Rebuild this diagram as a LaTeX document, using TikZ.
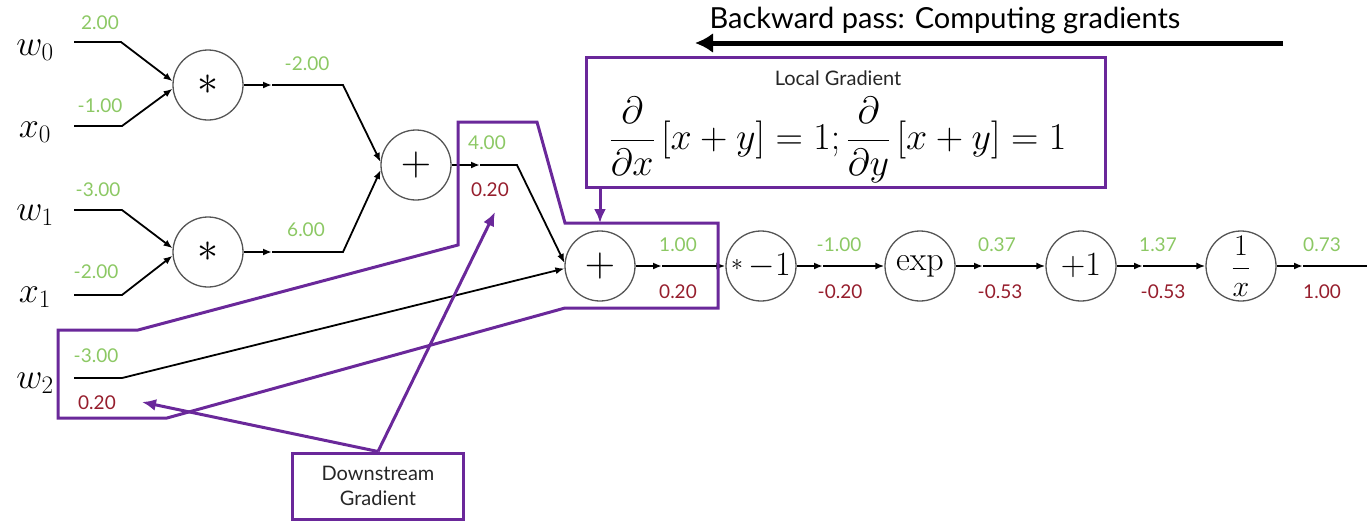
\documentclass[tikz,border=0pt]{standalone}
\usepackage{fix-cm}
\usepackage{fontspec}
\newfontfamily\lato{Lato}
\usetikzlibrary{arrows.meta}
\definecolor{fwdgreen}{RGB}{140,200,100}
\definecolor{bwdred}{RGB}{150,30,45}
\definecolor{boxpurple}{RGB}{106,40,154}
\definecolor{opgray}{RGB}{85,85,85}
\tikzset{
  op/.style={circle, draw=opgray, line width=1.3pt, minimum size=70pt, inner sep=0pt, font=\fontsize{34}{36}\selectfont},
  bigop/.style={op, font=\fontsize{42}{44}\selectfont},
  conn/.style={draw=black, line width=1.8pt},
  arr/.style={-{Latex[length=9pt,width=7pt]}},
  fwd/.style={text=fwdgreen, font=\lato\fontsize{19}{22}\selectfont, inner sep=0pt},
  bwd/.style={text=bwdred, font=\lato\fontsize{19}{22}\selectfont, inner sep=0pt},
  pbox/.style={draw=boxpurple, line width=3pt},
  parrow/.style={draw=boxpurple, line width=3pt, -{Latex[length=14pt,width=12pt]}},
  var/.style={anchor=base, inner sep=0pt, font=\fontsize{36}{36}\selectfont},
  boxtext/.style={font=\lato\fontsize{20}{25}\selectfont, text=black!85, align=center, inner sep=0pt},
}
\begin{document}
\begin{tikzpicture}[x=1pt,y=-1pt]
\useasboundingbox (0,0) rectangle (1367,525);

% variables
\node[var] (vw0) at (35,55) {$w_0$};
\node[var] (vx0) at (35,137) {$x_0$};
\node[var] (vw1) at (35,220) {$w_1$};
\node[var] (vx1) at (35,302) {$x_1$};
\node[var] (vw2) at (35,388) {$w_2$};

% operation nodes
\node[bigop] (m1) at (208,85) {$*$};
\node[bigop] (m2) at (208,252) {$*$};
\node[bigop] (p1) at (416,165) {$+$};
\node[bigop] (p2) at (600,266) {$+$};
\node[op] (n1) at (761,266) {\raisebox{5pt}{$\scriptstyle *$}$\,{-}1$};
\node[op] (e1) at (920,266) {$\mathrm{exp}$};
\node[op] (a1) at (1081,266) {${+}1$};
\node[op, font=\fontsize{30}{32}\selectfont] (r1) at (1241,266) {$\displaystyle\frac{1}{x}$};

% input wires
\coordinate (w0a) at (74,42);  \coordinate (w0b) at (121,42);
\coordinate (x0a) at (74,126); \coordinate (x0b) at (122,126);
\coordinate (w1a) at (74,210); \coordinate (w1b) at (122,210);
\coordinate (x1a) at (74,295); \coordinate (x1b) at (122,295);
\coordinate (w2a) at (74,378); \coordinate (w2b) at (122,378);
\draw[conn,arr] (w0a) -- (w0b) -- (m1.174);
\draw[conn,arr] (x0a) -- (x0b) -- (m1.186);
\draw[conn,arr] (w1a) -- (w1b) -- (m2.174);
\draw[conn,arr] (x1a) -- (x1b) -- (m2.186);
\draw[conn,arr] (w2a) -- (w2b) -- (p2.184);

% internal wires
\coordinate (ma1) at (272,85);  \coordinate (k1) at (343,85);
\coordinate (ma2) at (272,252); \coordinate (k2) at (343,252);
\coordinate (ma3) at (480,165); \coordinate (k3) at (517,165);
\coordinate (ma4) at (662,266);
\coordinate (ma5) at (823,266);
\coordinate (ma6) at (983,266);
\coordinate (ma7) at (1143,266);
\coordinate (ma8) at (1303,266);
\coordinate (out) at (1367,266);
\draw[conn,arr] (m1.east) -- (ma1);
\draw[conn,arr] (ma1) -- (k1) -- (p1.175);
\draw[conn,arr] (m2.east) -- (ma2);
\draw[conn,arr] (ma2) -- (k2) -- (p1.188);
\draw[conn,arr] (p1.east) -- (ma3);
\draw[conn,arr] (ma3) -- (k3) -- (p2.175);
\draw[conn,arr] (p2.east) -- (ma4);
\draw[conn,arr] (ma4) -- (n1.west);
\draw[conn,arr] (n1.east) -- (ma5);
\draw[conn,arr] (ma5) -- (e1.west);
\draw[conn,arr] (e1.east) -- (ma6);
\draw[conn,arr] (ma6) -- (a1.west);
\draw[conn,arr] (a1.east) -- (ma7);
\draw[conn,arr] (ma7) -- (r1.west);
\draw[conn,arr] (r1.east) -- (ma8);
\draw[conn] (ma8) -- (out);

% values
\node[fwd] (g1) at (100,23) {2.00};
\node[fwd] (g2) at (100,106) {-1.00};
\node[fwd] (g3) at (98,190) {-3.00};
\node[fwd] (g4) at (96,272) {-2.00};
\node[fwd] (g5) at (307,64) {-2.00};
\node[fwd] (g6) at (306,230) {6.00};
\node[fwd] (g7) at (487,143) {4.00};
\node[bwd] (b7) at (490,190) {0.20};
\node[fwd] (g8) at (678,245) {1.00};
\node[bwd] (b8) at (678,292) {0.20};
\node[fwd] (g9) at (839,245) {-1.00};
\node[bwd] (b9) at (840,292) {-0.20};
\node[fwd] (g10) at (997,245) {0.37};
\node[bwd] (b10) at (1000,292) {-0.53};
\node[fwd] (g11) at (1158,245) {1.37};
\node[bwd] (b11) at (1163,292) {-0.53};
\node[fwd] (g12) at (1322,245) {0.73};
\node[bwd] (b12) at (1322,292) {1.00};
\node[fwd] (g13) at (96,356) {-3.00};
\node[bwd] (b13) at (97,403) {0.20};

% purple highlight around the + gate
\draw[pbox, line join=miter] (458,122) -- (537,122) -- (565,223) -- (718,223) -- (718,308)
  -- (565,308) -- (167,418) -- (58,418) -- (58,330) -- (138,330) -- (458,245) -- cycle;

% local gradient box
\node[pbox, minimum width=519pt, minimum height=130pt, inner sep=0pt] (lg) at (845.5,122) {};
\node[boxtext] (lgt) at (838,78) {Local Gradient};
\node[inner sep=0pt, font=\fontsize{38}{40}\selectfont] (lgf) at (838,140)
  {$\displaystyle \frac{\partial}{\partial x}\,[x+y]=1;\frac{\partial}{\partial y}\,[x+y]=1$};
\coordinate (bt) at (600,223);
\draw[parrow] (lg.south -| p2.north) -- (bt);

% downstream gradient box
\node[pbox, minimum width=171pt, minimum height=66pt, boxtext] (ds) at (378,486) {Downstream\\[0pt]Gradient};
\coordinate (tipa) at (142,402);
\coordinate (tipb) at (495,212);
\draw[parrow] (ds.north) -- (tipa);
\draw[parrow] (ds.north) -- (tipb);

% backward pass arrow
\node[inner sep=0pt, font=\lato\fontsize{29}{32}\selectfont] (bp) at (945,20) {Backward pass: Computing gradients};
\coordinate (bpa) at (1283,43);
\coordinate (bpb) at (695,43);
\draw[line width=5pt, -{Latex[length=18pt,width=20pt]}] (bpa) -- (bpb);
\end{tikzpicture}
\end{document}
